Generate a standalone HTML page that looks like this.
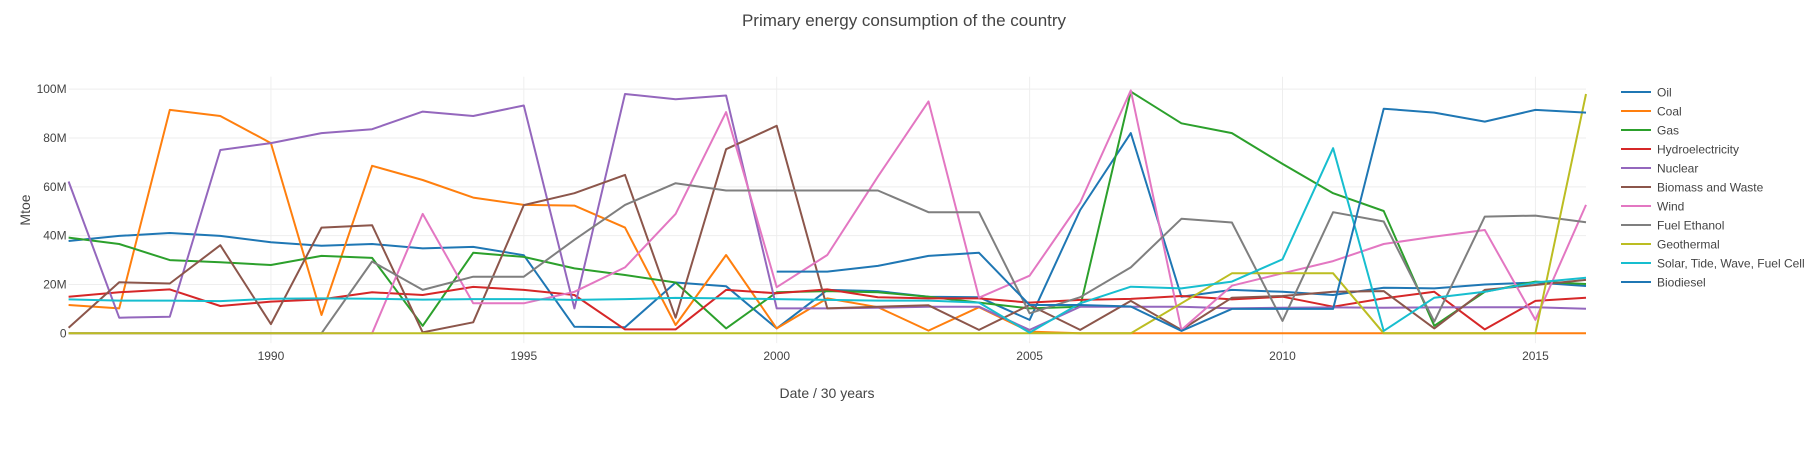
<!DOCTYPE html>
<html><head><meta charset="utf-8">
<style>
html,body{margin:0;padding:0;background:#fff;}
svg{display:block;font-family:"Liberation Sans",Arial,sans-serif;}
</style></head>
<body>
<svg id="chart" width="1811" height="474" viewBox="0 0 1811 474" xmlns="http://www.w3.org/2000/svg">
<rect width="1811" height="474" fill="#fff"/>
<text x="904" y="26" text-anchor="middle" font-size="17" fill="#444">Primary energy consumption of the country</text>
<g id="grid"></g>
<g id="axes"></g>
<g id="series"></g>
<g id="legend"></g>
<text x="827" y="398" text-anchor="middle" font-size="14" fill="#444">Date / 30 years</text>
<text x="30" y="210" text-anchor="middle" font-size="14" fill="#444" transform="rotate(-90 30 210)">Mtoe</text>
</svg>
<script>
const years = Array.from({length:31},(_,i)=>1986+i);
const oil = [37.8,39.9,41.1,39.9,37.3,35.9,36.6,34.8,35.4,32,2.7,2.5,20.8,19.3,2,17.8,17.3,15,14.8,5.5,50.5,82,15,17.8,17,15.7,18.7,18.4,20,20.8,19.4];
const coal = [11.6,10.2,91.5,89,77.9,7.5,68.6,62.8,55.6,52.6,52.3,43.3,3.4,32.1,2,14.3,10.7,1.1,10.7,0.7,0,0,0,0,0,0,0,0,0,0,0];
const gas = [39.2,36.6,30,29.1,28,31.7,30.9,3.1,33,31.3,26.6,23.9,20.8,2,16.8,17.3,16.8,15,12.6,10.2,10.9,99,86,82,69.4,57.4,50.1,3.1,17,21.2,20.2];
const hydro = [15,16.8,18,11.2,13,13.9,16.8,15.7,19,17.8,15.7,1.6,1.6,17.8,16.4,18,14.8,14.3,14.3,12.6,13.7,14.1,15.3,13.9,15,10.9,14.3,17,1.6,13.3,14.6];
const nuclear = [62.2,6.4,6.8,75.1,77.9,82,83.6,90.8,89,93.3,10.2,98,95.9,97.4,10.2,10.2,10.5,10.9,10.9,1.4,10.9,10.9,10.9,10.2,10.5,10.6,10.5,10.6,10.7,10.7,10.1];
const biomass = [2.3,20.9,20.4,36.1,3.8,43.3,44.3,0.4,4.5,52.5,57.4,64.9,6.4,75.4,85,10.2,10.9,11.5,1.4,11.6,1.4,13.3,1.4,14.6,15.3,17,17.3,2,17.8,19.8,21.9];
const wind = [0,0,0,0,0,0,0,48.9,12.3,12.3,17,27,48.9,90.6,18.9,32.1,64.2,95,14.6,23.6,53.6,99.5,1.4,19.5,24.6,29.6,36.6,39.6,42.3,5.5,52.6];
const ethanol = [0,0,0,0,0,0,29.4,17.8,23.2,23.2,38.3,52.6,61.5,58.5,58.5,58.5,58.5,49.6,49.6,8.2,14.8,27,46.9,45.4,5.1,49.6,45.8,4.8,47.8,48.2,45.5];
const geothermal = [0,0,0,0,0,0,0,0,0,0,0,0,0,0,0,0,0,0,0,0,0,0,12.3,24.6,24.6,24.6,0,0,0,0,98];
const solar = [13.9,13.4,13.4,13.2,14.2,14.3,14.2,13.8,14,14,13.7,14,14.5,14.3,14,13.7,13.4,13.4,12.6,0.3,12.3,19.1,18.4,21.2,30.3,75.8,1,14.6,17,20.8,22.8];
const biodiesel = [null,null,null,null,null,null,null,null,null,null,null,null,null,null,25.3,25.3,27.6,31.7,33,11.6,11.6,11,1,10,10,10,92,90.4,86.7,91.5,90.4];
const seriesNames = ["Oil","Coal","Gas","Hydroelectricity","Nuclear","Biomass and Waste","Wind","Fuel Ethanol","Geothermal","Solar, Tide, Wave, Fuel Cell","Biodiesel"];
const seriesData = [oil,coal,gas,hydro,nuclear,biomass,wind,ethanol,geothermal,solar,biodiesel];
const colors = ["#1f77b4","#ff7f0e","#2ca02c","#d62728","#9467bd","#8c564b","#e377c2","#7f7f7f","#bcbd22","#17becf","#1f77b4"];
const xTicks = [1990,1995,2000,2005,2010,2015];
const yTicks = [0,20,40,60,80,100];
const yTickLabels = ["0","20M","40M","60M","80M","100M"];

const NS="http://www.w3.org/2000/svg";
const X0=68.6,X1=1586,Y0=343.1,Y1=76.7,XMIN=1986,XMAX=2016,YMIN=-4,YMAX=105.1;
const xs=v=>X0+(v-XMIN)/(XMAX-XMIN)*(X1-X0);
const ys=v=>Y0-(v-YMIN)/(YMAX-YMIN)*(Y0-Y1);
function mk(tag,attrs,parent){const e=document.createElementNS(NS,tag);for(const k in attrs)e.setAttribute(k,attrs[k]);parent.appendChild(e);return e;}
const grid=document.getElementById('grid'),axes=document.getElementById('axes'),ser=document.getElementById('series'),leg=document.getElementById('legend');
xTicks.forEach(t=>{
  const l=mk('line',{x1:xs(t),x2:xs(t),y1:Y1,y2:Y0,stroke:'#eee','stroke-width':1},grid);
  
  
  const tx=mk('text',{x:xs(t),y:360,'text-anchor':'middle','font-size':12,fill:'#444'},axes);
  tx.textContent=t;
  
  
});
yTicks.forEach((t,i)=>{
  const l=mk('line',{x1:X0,x2:X1,y1:ys(t),y2:ys(t),stroke:'#eee','stroke-width':1},grid);
  
  
  const tx=mk('text',{x:X0-2,y:ys(t)+4,'text-anchor':'end','font-size':12,fill:'#444'},axes);
  tx.textContent=yTickLabels[i];
  
  
});
seriesData.forEach((d,si)=>{
  let p='',pen=false;
  d.forEach((v,i)=>{if(v===null){pen=false;return;}p+=(pen?'L':'M')+xs(years[i]).toFixed(1)+','+ys(v).toFixed(1);pen=true;});
  const path=mk('path',{d:p,fill:'none',stroke:colors[si],'stroke-width':2,'stroke-linejoin':'round'},ser);
  
  
  const g=mk('g',{},leg);
  
  
  const y=92+si*19;
  mk('line',{x1:1621,x2:1651,y1:y,y2:y,stroke:colors[si],'stroke-width':2},g);
  const tx=mk('text',{x:1657,y:y+4.5,'font-size':12,fill:'#444'},g);
  tx.textContent=seriesNames[si];
});
</script>
</body></html>
